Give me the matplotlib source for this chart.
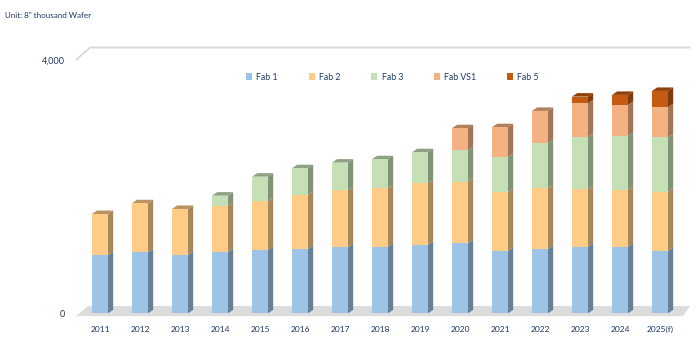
import numpy as np
import matplotlib
matplotlib.use('Agg')
import matplotlib.pyplot as plt
from matplotlib.patches import Polygon
from matplotlib.colors import to_rgb

plt.rcParams['font.family'] = ['Lato', 'DejaVu Sans']

years = ['2011', '2012', '2013', '2014', '2015', '2016', '2017', '2018',
         '2019', '2020', '2021', '2022', '2023', '2024', '2025(f)']
fab1 = [916, 964, 921, 969, 1000, 1016, 1043, 1052, 1084, 1106, 984, 1016, 1052, 1052, 984]
fab2 = [652, 774, 727, 726, 770, 853, 900, 923, 970, 973, 933, 959, 907, 896, 937]
fab3 = [0, 0, 0, 163, 388, 422, 437, 458, 490, 501, 553, 711, 831, 858, 860]
fabvs1 = [0, 0, 0, 0, 0, 0, 0, 0, 0, 343, 469, 510, 528, 485, 474]
fab5 = [0, 0, 0, 0, 0, 0, 0, 0, 0, 0, 0, 0, 104, 158, 257]

series = [('Fab 1', fab1), ('Fab 2', fab2), ('Fab 3', fab3),
          ('Fab VS1', fabvs1), ('Fab 5', fab5)]
colors = ['#9DC3E6', '#FFCC88', '#C5E0B4', '#F4B183', '#C55A11']
navy = '#203864'


def shade(c, f):
    r, g, b = to_rgb(c)
    return (r * f, g * f, b * f)


fig = plt.figure(figsize=(6.99, 3.51), dpi=100)
W, H = 699, 351
# axes in pixels: left 76, right 699, top 40, bottom 320
ax = fig.add_axes([76 / W, (H - 320) / H, (699 - 76) / W, 280 / H])
ax.set_xlim(-0.6, 14.975)
ax.set_ylim(-106, 4316)

w = 0.4
dx, dy = 0.13, 55  # fake depth

# floor and back gridline
floor = Polygon([(-0.6, -45), (14.575, -45), (14.75, 113), (-0.3, 113)],
                closed=True, fc='#DCDCDC', ec='none', zorder=1)
ax.add_patch(floor)
ax.plot([-0.6, -0.25, 14.75], [4000, 4197, 4197], color='#D9D9D9', lw=1.3,
        zorder=1, solid_joinstyle='miter')

x = np.arange(len(years))
bottom = np.zeros(len(years))
tops = np.zeros(len(years))
topcol = [None] * len(years)
for (name, vals), col in zip(series, colors):
    vals = np.array(vals, dtype=float)
    ax.bar(x, vals, width=w, bottom=bottom, color=col, label=name, zorder=3,
           linewidth=0)
    for i in range(len(years)):
        if vals[i] <= 0:
            continue
        b0, b1 = bottom[i], bottom[i] + vals[i]
        xr = x[i] + w / 2
        side = Polygon([(xr, b0), (xr + dx, b0 + dy), (xr + dx, b1 + dy), (xr, b1)],
                       closed=True, fc=shade(col, 0.66), ec='none', zorder=2)
        ax.add_patch(side)
        tops[i] = b1
        topcol[i] = col
    bottom = bottom + vals

for i in range(len(years)):
    xl, xr, t = x[i] - w / 2, x[i] + w / 2, tops[i]
    top = Polygon([(xl, t), (xl + dx, t + dy), (xr + dx, t + dy), (xr, t)],
                  closed=True, fc=shade(topcol[i], 0.72), ec='none', zorder=2)
    ax.add_patch(top)

for s in ax.spines.values():
    s.set_visible(False)
ax.set_xticks(x)
ax.set_xticklabels(years, fontsize=6, color=navy)
ax.set_yticks([0, 4000])
ax.set_yticklabels(['0', '4,000'], fontsize=6.5, color=navy)
ax.tick_params(axis='both', length=0)
ax.tick_params(axis='x', pad=4.5)
ax.tick_params(axis='y', pad=8)

fig.legend(loc='center left', bbox_to_anchor=(238 / W, 1 - 77 / H), ncol=5,
           frameon=False, fontsize=6.3, labelcolor=navy, handlelength=0.7,
           handleheight=0.7, handletextpad=0.5, columnspacing=3.5)

fig.text(5 / W, 1 - 15 / H, 'Unit: 8" thousand Wafer', fontsize=5.8, color=navy,
         va='center', ha='left')

fig.savefig('out.png', dpi=100)
